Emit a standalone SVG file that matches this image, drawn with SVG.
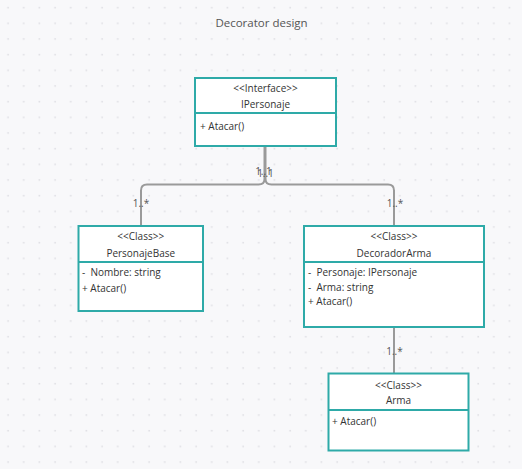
<svg xmlns="http://www.w3.org/2000/svg" width="522" height="469" viewBox="0 0 522 469">
  <defs>
    <pattern id="grid" x="0" y="0" width="15.67" height="15.67" patternUnits="userSpaceOnUse">
      <rect x="7.3" y="6.8" width="1.6" height="1.6" fill="#dedee3"/>
    </pattern>
  </defs>
  <style>
    text { font-family: "Open Sans", "Noto Sans", sans-serif; font-size: 10px; fill: #333; white-space: pre; }
    .c { text-anchor: middle; }
    .title { font-size: 11.5px; fill: #555; }
    .box { fill: #fff; stroke: #2eaaa8; stroke-width: 2; }
    .div { stroke: #2eaaa8; stroke-width: 2; }
    .link { fill: none; stroke: #9a9a9a; stroke-width: 2; }
    .mult { font-size: 10px; fill: #555; text-anchor: middle; }
  </style>

  <rect width="522" height="469" fill="#f8f8fa"/>
  <rect width="522" height="469" fill="url(#grid)"/>

  <text class="title c" x="261.5" y="27">Decorator design</text>

  <!-- associations -->
  <g id="connectors">
    <path class="link" d="M264.5 146 V179 Q264.5 184.5 258.5 184.5 H147 Q141 184.5 141 190.5 V226"/>
    <path class="link" d="M265.5 146 V179 Q265.5 184.5 271.5 184.5 H388 Q394 184.5 394 190.5 V226"/>
    <path class="link" d="M394 327 V373"/>
    <text class="mult" x="263.5" y="175">1..1</text>
    <text class="mult" x="265.5" y="176.5">1..1</text>
    <text class="mult" x="141" y="207">1..*</text>
    <text class="mult" x="395" y="207">1..*</text>
    <text class="mult" x="394.5" y="355">1..*</text>
  </g>

  <g id="IPersonaje">
    <rect class="box" x="195" y="78" width="141" height="68"/>
    <line class="div" x1="195" y1="113" x2="336" y2="113"/>
    <text class="c" x="265.5" y="92">&lt;&lt;Interface&gt;&gt;</text>
    <text class="c" x="265.5" y="107.5">IPersonaje</text>
    <text x="200" y="129.5">+ Atacar()</text>
  </g>

  <g id="PersonajeBase">
    <rect class="box" x="78.5" y="226" width="124.5" height="85"/>
    <line class="div" x1="78.5" y1="262" x2="203" y2="262"/>
    <text class="c" x="140.75" y="240">&lt;&lt;Class&gt;&gt;</text>
    <text class="c" x="140.75" y="256.5">PersonajeBase</text>
    <text x="82" y="276" xml:space="preserve">-  Nombre: string</text>
    <text x="82" y="291.5">+ Atacar()</text>
  </g>

  <g id="DecoradorArma">
    <rect class="box" x="304" y="226" width="180" height="101"/>
    <line class="div" x1="304" y1="262" x2="484" y2="262"/>
    <text class="c" x="394" y="240">&lt;&lt;Class&gt;&gt;</text>
    <text class="c" x="394" y="256.5">DecoradorArma</text>
    <text x="308" y="276" xml:space="preserve">-  Personaje: IPersonaje</text>
    <text x="308" y="290.5" xml:space="preserve">-  Arma: string</text>
    <text x="308" y="305">+ Atacar()</text>
  </g>

  <g id="Arma">
    <rect class="box" x="328.5" y="373.5" width="140" height="77"/>
    <line class="div" x1="328.5" y1="410" x2="468.5" y2="410"/>
    <text class="c" x="398.5" y="388.5">&lt;&lt;Class&gt;&gt;</text>
    <text class="c" x="398.5" y="404">Arma</text>
    <text x="332" y="425">+ Atacar()</text>
  </g>
</svg>
